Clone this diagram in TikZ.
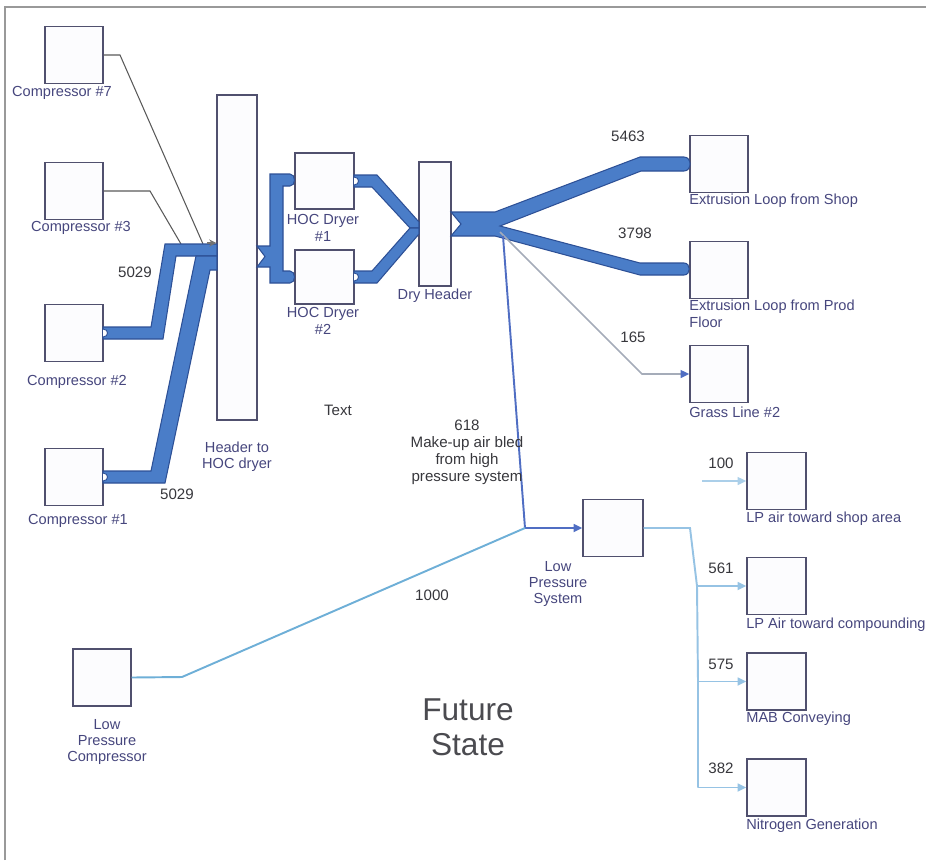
\documentclass[tikz,border=0pt]{standalone}
\usepackage{fontspec}
\setmainfont{Liberation Sans}
\usetikzlibrary{arrows.meta}
\definecolor{boxc}{RGB}{80,80,110}
\definecolor{boxf}{RGB}{252,252,254}
\definecolor{lab}{RGB}{70,70,125}
\definecolor{num}{RGB}{55,55,60}
\definecolor{bandbd}{RGB}{45,80,150}
\definecolor{bandfl}{RGB}{74,125,200}
\definecolor{midb}{RGB}{80,110,195}
\definecolor{lightb}{RGB}{110,175,215}
\definecolor{lpob}{RGB}{150,195,228}
\definecolor{grassc}{RGB}{165,172,185}
\tikzset{
  box/.style={draw=boxc, fill=boxf, line width=0.8pt, inner sep=0pt, minimum width=1.16cm, minimum height=1.14cm},
  lbl/.style={text=lab, font=\fontsize{8.3}{9.3}\selectfont, inner sep=0pt, align=center},
  lbll/.style={text=lab, font=\fontsize{8.3}{9.3}\selectfont, inner sep=0pt, align=left},
  numl/.style={text=num, font=\fontsize{8.6}{9.6}\selectfont, inner sep=0pt, align=center},
  bandp/.style={fill=bandfl, draw=bandbd, line width=0.6pt, line join=miter},
  bump/.style={fill=white, draw=bandbd, line width=0.5pt},
  thinl/.style={draw=black!65, line width=0.6pt},
  lptip/.style={-{Triangle[length=5pt,width=4.5pt]}},
}
\begin{document}
\begin{tikzpicture}[x={(0.02cm,0)}, y={(0,-0.02cm)}]
\useasboundingbox (0,0) rectangle (926,860);
\draw[black!40, line width=0.7pt] (5,860) -- (5,7) -- (926,7);

% boxes
\node[box] (c7) at (74,55) {};
\node[box] (c3) at (74,191) {};
\node[box] (c2) at (74,333) {};
\node[box] (c1) at (74,477) {};
\node[box, minimum width=0.8cm, minimum height=6.5cm] (hdr) at (237,257.5) {};
\node[box, minimum width=1.18cm, minimum height=1.12cm] (d1) at (324.5,181) {};
\node[box, minimum width=1.18cm, minimum height=1.08cm] (d2) at (324.5,277) {};
\node[box, minimum width=0.64cm, minimum height=2.48cm] (dh) at (435,224) {};
\node[box] (ext1) at (719,164) {};
\node[box] (ext2) at (719,270) {};
\node[box] (grass) at (719,374) {};
\node[box, minimum width=1.2cm] (lps) at (613,528) {};
\node[box, minimum width=1.18cm] (lp1) at (776.5,481) {};
\node[box, minimum width=1.18cm] (lp2) at (776.5,586) {};
\node[box, minimum width=1.18cm] (lp3) at (776.5,681.5) {};
\node[box, minimum width=1.18cm] (lp4) at (776.5,787.5) {};
\node[box] (lpc) at (102,677.5) {};

% helper coordinates
\coordinate (j) at (525,528);
\coordinate (k) at (690,528);

% thin lines from compressors 7 and 3
\draw[thinl] (c7.east) -- (120,55) -- (203,244);
\draw[thinl] (c3.east) -- (150,191) -- (181,244);

% thick flow bands (compressors 2 and 1 to header)
\draw[bandp] (103,327) -- (151,327) -- (165,244) -- (217,244) -- (217,256) -- (176,256) -- (163,339) -- (103,339) -- cycle;
\draw[bandp] (103,471) -- (151,471) -- (196,256) -- (217,256) -- (217,270) -- (210,270) -- (165,483) -- (103,483) -- cycle;
\draw[bump] (103,329) .. controls (109,329) and (109,337) .. (103,337);
\draw[bump] (103,473) .. controls (109,473) and (109,481) .. (103,481);
\draw[black!55, line width=0.6pt, -{Stealth[length=4pt,width=4pt]}] (207,243) -- (hdr.west |- 0,243);

% header to dryers
\draw[bandp] (257,246) -- (270,246) -- (270,174) -- (290,174) .. controls (296,174) and (296,186) .. (290,186) -- (283,186) -- (283,271) -- (290,271) .. controls (296,271) and (296,283) .. (290,283) -- (270,283) -- (270,267) -- (257,267) -- (265,256.5) -- cycle;

% dryers to dry header
\draw[bandp] (354,175) -- (377,175) -- (419,222) -- (419,228) -- (410,228) -- (372,187) -- (354,187) -- cycle;
\draw[bandp] (354,283) -- (377,283) -- (419,234) -- (419,228) -- (410,228) -- (372,271) -- (354,271) -- cycle;
\draw[bump] (354,177) .. controls (360,177) and (360,185) .. (354,185);
\draw[bump] (354,273) .. controls (360,273) and (360,281) .. (354,281);

% dry header to extrusion loops
\draw[bandp] (451,212) -- (495,212) -- (640,157) -- (684,157) .. controls (692,157) and (692,171) .. (684,171) -- (641,171) -- (500,226) -- (640,263) -- (684,263) .. controls (691,263) and (691,275) .. (684,275) -- (640,275) -- (495,236) -- (451,236) -- (461,224) -- cycle;

% grass line
\draw[grassc, line width=1pt, -{Triangle[length=5pt,width=4.5pt,color=midb]}] (500,232) -- (642,374) -- (grass.west);
% 618 line
\draw[midb, line width=1.1pt, lptip] (503,236) -- (j) -- (lps.west);
% 1000 line
\draw[lightb, line width=1.1pt] (lpc.east) -- (182,677) -- (j);
% LP outputs
\draw[lpob, line width=1.1pt] (lps.east) -- (k) -- (697,586) -- (698,681.5) -- (698,787.5);
\draw[lpob!80, line width=1pt, lptip] (702,481) -- (lp1.west);
\draw[lpob, line width=1.1pt, lptip] (697,586) -- (lp2.west);
\draw[lpob, line width=1.1pt, lptip] (698,681.5) -- (lp3.west);
\draw[lpob, line width=1.1pt, lptip] (698,787.5) -- (lp4.west);

% labels
\node[lbl] (lc7) at (62,93) {Compressor \#7};
\node[lbl] (lc3) at (81,228) {Compressor \#3};
\node[lbl] (lc2) at (77,382) {Compressor \#2};
\node[lbl] (lc1) at (78,521) {Compressor \#1};
\node[lbl] (lhdr) at (237,457) {Header to\\HOC dryer};
\node[lbl] (ld1) at (323,228) {HOC Dryer\\\#1};
\node[lbl] (ld2) at (323,321) {HOC Dryer\\\#2};
\node[lbl] (ldh) at (435,296) {Dry Header};
\node[lbll, anchor=west] (lext1) at (689,201) {Extrusion Loop from Shop};
\node[lbll, anchor=north west] (lext2) at (689,300) {Extrusion Loop from Prod\\Floor};
\node[lbll, anchor=west] (lgrass) at (689,412) {Grass Line \#2};
\node[lbl] (llps) at (558,584) {Low\\Pressure\\System};
\node[lbll, anchor=west] (llp1) at (746,519) {LP air toward shop area};
\node[lbll, anchor=west] (llp2) at (746,625) {LP Air toward compounding};
\node[lbll, anchor=west] (llp3) at (746,719) {MAB Conveying};
\node[lbll, anchor=west] (llp4) at (746,826) {Nitrogen Generation};
\node[lbl] (llpc) at (107,742) {Low\\Pressure\\Compressor};

% numbers
\node[numl] (n1) at (135,272) {5029};
\node[numl] (n2) at (177,494) {5029};
\node[numl] (n3) at (628,136) {5463};
\node[numl] (n4) at (635,233) {3798};
\node[numl] (n5) at (633,337) {165};
\node[numl] (n6) at (721,463) {100};
\node[numl] (n7) at (721,568) {561};
\node[numl] (n8) at (721,664) {575};
\node[numl] (n9) at (721,768) {382};
\node[numl] (n10) at (432,595) {1000};
\node[numl] (ntext) at (338,410) {Text};
\node[numl, font=\fontsize{8.6}{9.7}\selectfont] (n618) at (467,452) {618\\Make-up air bled\\from high\\pressure system};
\node[text=num!90, font=\fontsize{18}{20}\selectfont, align=center, inner sep=0pt] (fs) at (468,727) {Future\\State};
\end{tikzpicture}
\end{document}
